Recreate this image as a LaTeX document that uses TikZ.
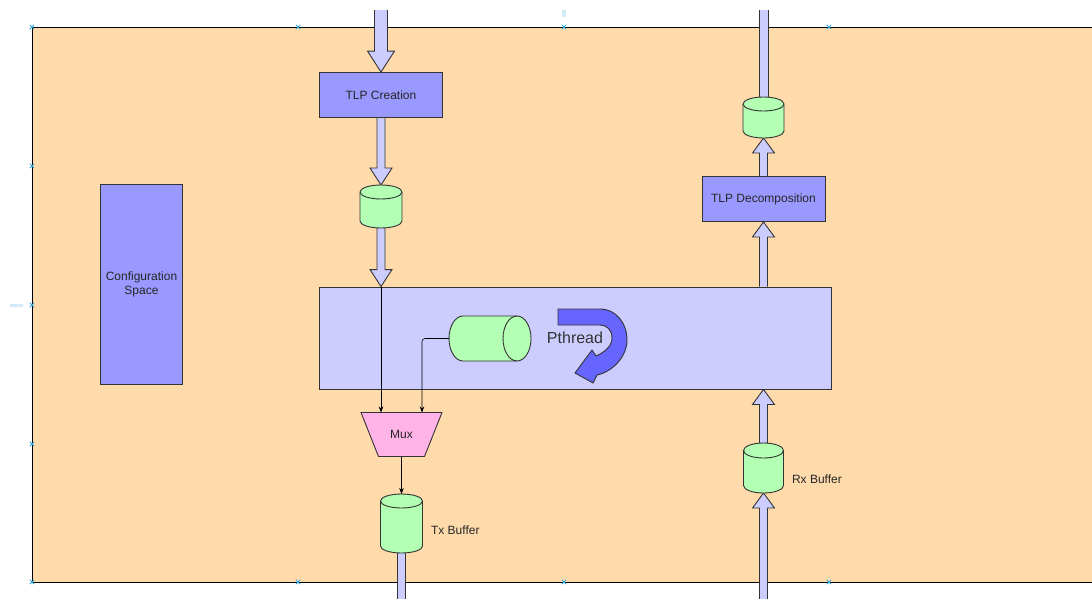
\documentclass[tikz,border=0pt]{standalone}
\usepackage{fontspec}
\setmainfont{Liberation Sans}
\usetikzlibrary{calc,arrows.meta}
\definecolor{orangebg}{HTML}{FFDBAC}
\definecolor{boxblue}{HTML}{9999FF}
\definecolor{lightblue}{HTML}{CCCCFF}
\definecolor{cylgreen}{HTML}{B3FFB3}
\definecolor{muxpink}{HTML}{FFB3E6}
\definecolor{pthblue}{HTML}{6666FF}
\definecolor{edge}{HTML}{333333}
\definecolor{handle}{HTML}{2FA8E0}
\definecolor{handlebar}{HTML}{D3EAF8}
\pgfdeclarelayer{bg}
\pgfsetlayers{bg,main}
\tikzset{
  lbl/.style={font=\fontsize{12}{14}\selectfont, text=black!85},
  bluebox/.style={draw=edge, fill=boxblue, line width=0.9pt, inner sep=0pt, lbl, align=center},
  corebox/.style={draw=edge, fill=lightblue, line width=0.9pt, inner sep=0pt},
  hold/.style={draw=none, inner sep=0pt, outer sep=0pt},
  cylshape/.style={draw=edge, fill=cylgreen, line width=0.9pt},
  cylline/.style={draw=edge, line width=0.9pt},
  fatfill/.style={fill=lightblue, draw=none},
  fatedge/.style={draw=edge, line width=0.9pt, line join=miter},
  thinarrow/.style={draw=black, line width=0.6pt, -{Stealth[length=6pt,width=4.5pt]}},
  handlemark/.style={draw=handle, line width=0.8pt},
}
% fat arrow: #1 start, #2 tip, #3 signed head length, #4 shaft half width, #5 head half width
\newcommand\fatarr[5]{%
  \fill[fatfill] ($(#1)+(-#4,0)$) -- ($(#2)+(-#4,#3)$) -- ($(#2)+(-#5,#3)$) -- (#2)
     -- ($(#2)+(#5,#3)$) -- ($(#2)+(#4,#3)$) -- ($(#1)+(#4,0)$) -- cycle;
  \draw[fatedge] ($(#1)+(-#4,0)$) -- ($(#2)+(-#4,#3)$) -- ($(#2)+(-#5,#3)$) -- (#2)
     -- ($(#2)+(#5,#3)$) -- ($(#2)+(#4,#3)$) -- ($(#1)+(#4,0)$);}
\newcommand\fatshaft[3]{%
  \fill[fatfill] ($(#1)+(-#3,0)$) -- ($(#2)+(-#3,0)$) -- ($(#2)+(#3,0)$) -- ($(#1)+(#3,0)$) -- cycle;
  \draw[fatedge] ($(#1)+(-#3,0)$) -- ($(#2)+(-#3,0)$);
  \draw[fatedge] ($(#1)+(#3,0)$) -- ($(#2)+(#3,0)$);}
% vertical cylinder on a holder node: #1 name, #2 x radius, #3 y radius
\newcommand\cylv[3]{%
  \filldraw[cylshape] ($(#1.north west)+(0,#3)$) -- ($(#1.south west)+(0,-#3)$)
     arc[start angle=180,end angle=360,x radius=#2pt,y radius=#3pt]
     -- ($(#1.north east)+(0,#3)$)
     arc[start angle=0,end angle=180,x radius=#2pt,y radius=#3pt] -- cycle;
  \draw[cylline] ($(#1.north west)+(0,#3)$) arc[start angle=180,end angle=360,x radius=#2pt,y radius=#3pt];}
% horizontal cylinder, cap on the right: #1 name, #2 x radius, #3 y radius
\newcommand\cylh[3]{%
  \filldraw[cylshape] ($(#1.north west)+(#2,0)$) -- ($(#1.north east)+(-#2,0)$)
     arc[start angle=90,end angle=-90,x radius=#2pt,y radius=#3pt]
     -- ($(#1.south west)+(#2,0)$)
     arc[start angle=270,end angle=90,x radius=#2pt,y radius=#3pt] -- cycle;
  \draw[cylline] ($(#1.north east)+(-#2,0)$) arc[start angle=90,end angle=270,x radius=#2pt,y radius=#3pt];}
\newcommand\hmark[1]{\draw[handlemark] ($(#1)+(-2.2,-2.2)$) -- ($(#1)+(2.2,2.2)$) ($(#1)+(-2.2,2.2)$) -- ($(#1)+(2.2,-2.2)$);}

\begin{document}
\begin{tikzpicture}[x=1pt,y=-1pt]
\useasboundingbox (0,0) rectangle (1092,598);
\clip (0,0) rectangle (1092,598);

% main nodes
\node[bluebox, minimum width=82pt, minimum height=200pt] (cfg) at (141.5,284) {Configuration\\Space};
\node[corebox, minimum width=512pt, minimum height=102pt] (core) at (575,338) {};
\node[bluebox, minimum width=123pt, minimum height=45pt] (tlpc) at (381,95) {TLP Creation};
\node[bluebox, minimum width=123pt, minimum height=45pt] (tlpd) at (763.5,199) {TLP Decomposition};

% cylinders
\node[hold, minimum width=42pt, minimum height=43pt] (cyl1) at (381,206.5) {};
\cylv{cyl1}{21}{7}
\node[hold, minimum width=41pt, minimum height=41pt] (cyl2) at (763.5,117.5) {};
\cylv{cyl2}{20.5}{7}
\node[hold, minimum width=40pt, minimum height=50pt] (rx) at (763.5,468) {};
\cylv{rx}{20}{7.5}
\node[hold, minimum width=42pt, minimum height=59pt] (tx) at (401.5,523.5) {};
\cylv{tx}{21}{7}
\node[hold, minimum width=82pt, minimum height=45pt] (hcyl) at (490,338.5) {};
\cylh{hcyl}{14}{22.5}

% mux
\node[hold, minimum width=81pt, minimum height=44pt] (mux) at (401.5,434.5) {};
\filldraw[draw=edge, fill=muxpink, line width=0.9pt] (mux.north west) -- (mux.north east)
   -- ($(mux.south east)+(-17.5,0)$) -- ($(mux.south west)+(17.5,0)$) -- cycle;
\node[lbl] (muxlbl) at (mux) {Mux};

% Pthread curved arrow
\filldraw[fill=pthblue, draw=edge, line width=0.9pt, line join=round]
  (558,309) -- (600,309) .. controls (616,309) and (627,323) .. (627,340)
  .. controls (627,357) and (612,372) .. (597,375) -- (593,383) -- (575,373)
  -- (592,350) -- (596,356) .. controls (605,352) and (612,346) .. (612,338)
  .. controls (612,330) and (607,325) .. (600,325) -- (558,325) -- cycle;
\node[font=\fontsize{16}{19}\selectfont, text=black!80] (pth) at (575,338) {Pthread};

% labels
\node[lbl, anchor=west] (txl) at ($(tx.east)+(5,6.5)$) {Tx Buffer};
\node[lbl, anchor=west] (rxl) at ($(rx.east)+(5,11)$) {Rx Buffer};

% connection points
\coordinate (inTop) at (381,10);
\coordinate (outTop) at (763.5,10);
\coordinate (inBot) at (763.5,605);
\coordinate (outBot) at (401.5,605);
\coordinate (t1) at (cyl1 |- core.north);
\coordinate (t2) at (tlpd |- core.north);
\coordinate (t3) at (rx |- core.south);
\coordinate (m1) at (t1 |- mux.north);
\coordinate (m2) at ($(mux.north)+(20.5,0)$);

% thin connectors
\draw[thinarrow] (t1) -- (m1);
\draw[thinarrow, rounded corners=3pt] (hcyl.west) -| (m2);
\draw[thinarrow] (mux.south) -- (tx.north);

% background layer: frame, fat arrows, handles
\begin{pgfonlayer}{bg}
\filldraw[fill=orangebg, draw=black, line width=0.8pt] (32,27) rectangle (1100,582);
\fatarr{inTop}{tlpc.north}{-21}{6.5}{13.5}
\fatarr{tlpc.south}{cyl1.north}{-17}{4}{11}
\fatarr{cyl1.south}{t1}{-17}{4}{11}
\fatarr{t2}{tlpd.south}{15}{4}{11}
\fatarr{tlpd.north}{cyl2.south}{15}{4}{11}
\fatshaft{cyl2.north}{outTop}{4.5}
\fatarr{rx.north}{t3}{15}{4}{11}
\fatarr{inBot}{rx.south}{15}{4}{11}
\fatshaft{tx.south}{outBot}{4}
\fill[handlebar] (10,303.5) rectangle (23,306.5);
\fill[handlebar] (562,9.5) rectangle (565.5,17);
\end{pgfonlayer}

% selection handles
\coordinate (h1) at (32,27);   \hmark{h1}
\coordinate (h2) at (298,27);  \hmark{h2}
\coordinate (h3) at (564,27);  \hmark{h3}
\coordinate (h4) at (829,27);  \hmark{h4}
\coordinate (h5) at (32,166);  \hmark{h5}
\coordinate (h6) at (32,305);  \hmark{h6}
\coordinate (h7) at (32,444);  \hmark{h7}
\coordinate (h8) at (32,582);  \hmark{h8}
\coordinate (h9) at (298,582); \hmark{h9}
\coordinate (h10) at (564,582); \hmark{h10}
\coordinate (h11) at (829,582); \hmark{h11}
\end{tikzpicture}
\end{document}
